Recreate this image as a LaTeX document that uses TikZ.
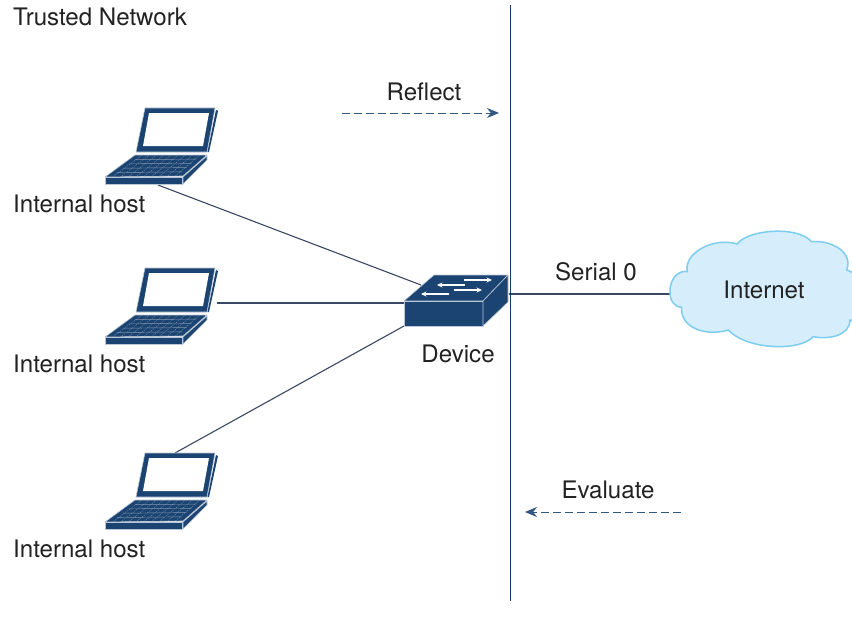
\documentclass[tikz,border=0pt]{standalone}
\usepackage{fontspec}
\setmainfont{TeX Gyre Heros}
\usetikzlibrary{arrows.meta,calc}
\definecolor{navy}{HTML}{1B4472}
\definecolor{wire}{HTML}{3A4866}
\definecolor{cloudfill}{HTML}{D6EEFB}
\definecolor{cloudline}{HTML}{7CCDEE}
\definecolor{ink}{HTML}{222222}
\tikzset{
  x=1pt,y=-1pt,
  lbl/.style={font=\fontsize{24.1}{28}\selectfont,text=ink,inner sep=0pt},
  leftlbl/.style={lbl,anchor=west},
  connector/.style={draw=wire,line width=1.1pt},
  flow/.style={draw=navy!90,line width=1pt,dash pattern=on 8pt off 4pt,-{Stealth[length=12pt,width=10pt]}},
  device/.style={fill=navy,draw=white!70!navy,line width=.6pt,line join=round},
  laptop/.pic={
    \fill[device] (145,108)--(215,108)--(207,152)--(136,152)--cycle;
    \fill[white] (149,113)--(209,113)--(203,146)--(143,146)--cycle;
    \fill[navy] (216,110)--(218,111)--(209,152)--(207.5,152)--cycle;
    \fill[device] (135,155)--(207,155)--(183,176)--(105,177)--cycle;
    \fill[device] (105,177)--(182,177)--(182,184)--(105,184)--cycle;
    \fill[device] (183,177)--(207,156)--(207,160)--(183,184)--cycle;
    \foreach \t in {.2,.4,.6,.8}{
      \draw[white!45!navy,line width=.45pt] ($(135,155)!\t!(105,177)+(6,0)$)--($(207,155)!\t!(183,176)+(-6,0)$);
    }
    \foreach \t in {.1,.2,...,.91}{
      \draw[white!45!navy,line width=.35pt,dash pattern=on 1.2pt off 1pt] ($(135,155)!\t!(207,155)$)--($(105,177)!\t!(183,176)$);
    }
  }
}
\begin{document}
\begin{tikzpicture}
\useasboundingbox (0,0) rectangle (852,618);
\fill[white] (0,0) rectangle (852,618);

\node[leftlbl] (trusted) at (13,17) {Trusted Network};

\coordinate (h1) at (158,185);
\coordinate (h2) at (217,303);
\coordinate (h3) at (175,453);
\coordinate (s1) at (421,285);
\coordinate (s2) at (404,303);
\coordinate (s3) at (404,326);
\coordinate (s4) at (509,294);
\coordinate (c1) at (670,294);
\coordinate (wtop) at (510.5,5);
\coordinate (wbot) at (510.5,601);
\coordinate (r1) at (342,113);
\coordinate (r2) at (499,113);
\coordinate (e1) at (681,512);
\coordinate (e2) at (525,512);

\draw[connector] (h1)--(s1);
\draw[connector] (h2)--(s2);
\draw[connector] (h3)--(s3);
\draw[connector] (s4)--(c1);
\draw[draw=navy!85!black,line width=1.1pt] (wtop)--(wbot);

\pic at (0,0) {laptop};
\pic at (0,160) {laptop};
\pic at (0,345) {laptop};
\node[leftlbl] (l1) at (13,204) {Internal host};
\node[leftlbl] (l2) at (13,364) {Internal host};
\node[leftlbl] (l3) at (13,549) {Internal host};

\fill[device] (434,275)--(508,275)--(483,301)--(404,301)--cycle;
\fill[device] (404,301)--(483,301)--(483,326)--(404,326)--cycle;
\fill[device] (483,301)--(508,275)--(508,302)--(483,326)--cycle;
\begin{scope}[white,line width=1.5pt,-{Stealth[length=5.5pt,width=5pt]}]
\draw (464,280)--(492,280);
\draw (465,285)--(437,285);
\draw (454,290)--(482,290);
\draw (449,294)--(421,294);
\end{scope}
\node[lbl] (dev) at (458,354) {Device};

\begin{scope}[shift={(650,220)},x=.3333pt,y=-.3333pt]
\clip (0,0) rectangle (606,410);
\draw[fill=cloudfill,draw=cloudline,line width=1.5pt]
 (60,215) .. controls (60,170) and (90,150) .. (112,155)
 .. controls (100,100) and (190,50) .. (262,72)
 .. controls (290,30) and (440,15) .. (485,65)
 .. controls (550,60) and (610,100) .. (590,150)
 .. controls (605,155) and (640,170) .. (650,230)
 .. controls (650,290) and (620,310) .. (600,300)
 .. controls (600,345) and (540,360) .. (490,350)
 .. controls (450,395) and (290,390) .. (235,330)
 .. controls (170,350) and (90,325) .. (95,262)
 .. controls (70,260) and (60,240) .. (60,215) -- cycle;
\end{scope}
\node[lbl] (inet) at (764,290) {Internet};
\node[lbl] (ser) at (596,272) {Serial 0};

\draw[flow] (r1)--(r2);
\draw[flow] (e1)--(e2);
\node[lbl] (refl) at (424,92) {Reflect};
\node[lbl] (eval) at (608,490) {Evaluate};
\end{tikzpicture}
\end{document}
